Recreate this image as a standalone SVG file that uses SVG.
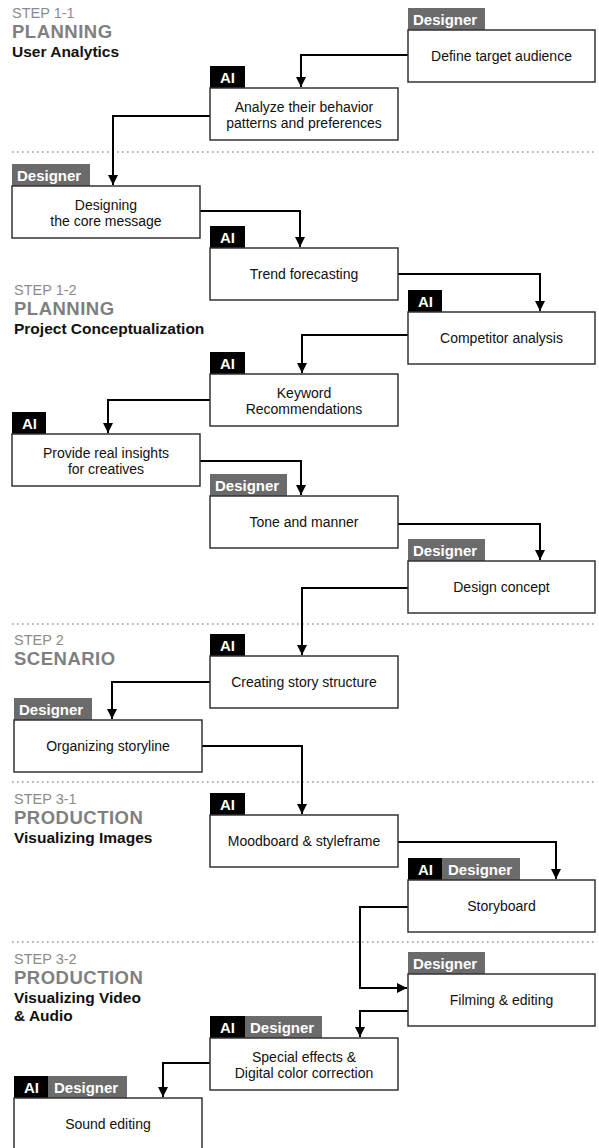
<svg xmlns="http://www.w3.org/2000/svg" width="599" height="1148" viewBox="0 0 599 1148">
<style>
text{font-family:"Liberation Sans",Arial,sans-serif}
.box{fill:#fff;stroke:#333;stroke-width:1.5}
.t{font-size:14px;fill:#111;text-anchor:middle}
.tagD{fill:#6b6b6b}
.tagA{fill:#000}
.tg{font-size:15px;font-weight:700;fill:#fff}
.step{font-size:14.5px;font-weight:400;fill:#8c8c8c}
.big{font-size:18.5px;font-weight:700;fill:#7f7f7f;letter-spacing:0.5px}
.sub{font-size:15.5px;font-weight:700;fill:#111}
.dot{stroke:#999;stroke-width:1.6;stroke-dasharray:1.6 3.4;fill:none}
.c{fill:none;stroke:#000;stroke-width:2}
</style>
<defs>
<marker id="ah" markerUnits="userSpaceOnUse" markerWidth="12" markerHeight="12" viewBox="0 0 12 12" refX="10" refY="6" orient="auto">
<path d="M0,1 L10,6 L0,11 Z" fill="#000"/>
</marker>
</defs>
<g id="dividers">
<line class="dot" x1="12" y1="152" x2="596" y2="152"/>
<line class="dot" x1="12" y1="624" x2="596" y2="624"/>
<line class="dot" x1="12" y1="782" x2="596" y2="782"/>
<line class="dot" x1="12" y1="942" x2="596" y2="942"/>
</g>
<g id="headers">
<text class="step" x="12" y="17.5">STEP 1-1</text>
<text class="big" x="12" y="38">PLANNING</text>
<text class="sub" x="12" y="56.5">User Analytics</text>
<text class="step" x="14" y="294.5">STEP 1-2</text>
<text class="big" x="14" y="315">PLANNING</text>
<text class="sub" x="14" y="333.5">Project Conceptualization</text>
<text class="step" x="14" y="644.5">STEP 2</text>
<text class="big" x="14" y="665">SCENARIO</text>
<text class="step" x="14" y="803.5">STEP 3-1</text>
<text class="big" x="14" y="824">PRODUCTION</text>
<text class="sub" x="14" y="842.5">Visualizing Images</text>
<text class="step" x="14" y="963.5">STEP 3-2</text>
<text class="big" x="14" y="984">PRODUCTION</text>
<text class="sub" x="14" y="1002.5">Visualizing Video</text>
<text class="sub" x="14" y="1020.5">&amp; Audio</text>
</g>
<g id="connectors">
<path class="c" d="M408,55 H301 V87" marker-end="url(#ah)"/>
<path class="c" d="M210,116 H113 V185" marker-end="url(#ah)"/>
<path class="c" d="M200,211 H300 V247" marker-end="url(#ah)"/>
<path class="c" d="M398,274 H540 V311" marker-end="url(#ah)"/>
<path class="c" d="M408,335 H302 V373" marker-end="url(#ah)"/>
<path class="c" d="M210,400 H108 V433" marker-end="url(#ah)"/>
<path class="c" d="M200,461 H301 V495" marker-end="url(#ah)"/>
<path class="c" d="M398,524 H540 V560" marker-end="url(#ah)"/>
<path class="c" d="M408,588 H302 V655" marker-end="url(#ah)"/>
<path class="c" d="M210,682 H112 V719" marker-end="url(#ah)"/>
<path class="c" d="M202,746 H302 V814" marker-end="url(#ah)"/>
<path class="c" d="M398,842 H556 V879" marker-end="url(#ah)"/>
<path class="c" d="M408,907 H360 V988 H407" marker-end="url(#ah)"/>
<path class="c" d="M408,1011 H360 V1037" marker-end="url(#ah)"/>
<path class="c" d="M210,1063 H163 V1097" marker-end="url(#ah)"/>
</g>
<g id="n1">
<rect class="tagD" x="408" y="8" width="77" height="22"/>
<text class="tg" x="413" y="24.5">Designer</text>
<rect class="box" x="408" y="30" width="187" height="52"/>
<text class="t" x="501.5" y="61">Define target audience</text>
</g>
<g id="n2">
<rect class="tagA" x="210" y="66" width="35" height="22"/>
<text class="tg" x="220" y="82.5">AI</text>
<rect class="box" x="210" y="88" width="188" height="52"/>
<text class="t" x="304" y="111.5">Analyze their behavior</text>
<text class="t" x="304" y="128">patterns and preferences</text>
</g>
<g id="n3">
<rect class="tagD" x="12" y="164" width="78" height="22"/>
<text class="tg" x="17" y="180.5">Designer</text>
<rect class="box" x="12" y="186" width="188" height="52"/>
<text class="t" x="106" y="209.5">Designing</text>
<text class="t" x="106" y="226">the core message</text>
</g>
<g id="n4">
<rect class="tagA" x="210" y="226" width="35" height="22"/>
<text class="tg" x="220" y="242.5">AI</text>
<rect class="box" x="210" y="248" width="188" height="52"/>
<text class="t" x="304" y="279">Trend forecasting</text>
</g>
<g id="n5">
<rect class="tagA" x="408" y="290" width="34" height="22"/>
<text class="tg" x="418" y="306.5">AI</text>
<rect class="box" x="408" y="312" width="187" height="52"/>
<text class="t" x="501.5" y="343">Competitor analysis</text>
</g>
<g id="n6">
<rect class="tagA" x="210" y="352" width="35" height="22"/>
<text class="tg" x="220" y="368.5">AI</text>
<rect class="box" x="210" y="374" width="188" height="52"/>
<text class="t" x="304" y="397.5">Keyword</text>
<text class="t" x="304" y="414">Recommendations</text>
</g>
<g id="n7">
<rect class="tagA" x="12" y="412" width="34" height="22"/>
<text class="tg" x="22" y="428.5">AI</text>
<rect class="box" x="12" y="434" width="188" height="52"/>
<text class="t" x="106" y="457.5">Provide real insights</text>
<text class="t" x="106" y="474">for creatives</text>
</g>
<g id="n8">
<rect class="tagD" x="210" y="474" width="77" height="22"/>
<text class="tg" x="215" y="490.5">Designer</text>
<rect class="box" x="210" y="496" width="188" height="52"/>
<text class="t" x="304" y="527">Tone and manner</text>
</g>
<g id="n9">
<rect class="tagD" x="408" y="539" width="77" height="22"/>
<text class="tg" x="413" y="555.5">Designer</text>
<rect class="box" x="408" y="561" width="187" height="52"/>
<text class="t" x="501.5" y="592">Design concept</text>
</g>
<g id="n10">
<rect class="tagA" x="210" y="634" width="35" height="22"/>
<text class="tg" x="220" y="650.5">AI</text>
<rect class="box" x="210" y="656" width="188" height="52"/>
<text class="t" x="304" y="687">Creating story structure</text>
</g>
<g id="n11">
<rect class="tagD" x="14" y="698" width="78" height="22"/>
<text class="tg" x="19" y="714.5">Designer</text>
<rect class="box" x="14" y="720" width="188" height="52"/>
<text class="t" x="108" y="751">Organizing storyline</text>
</g>
<g id="n12">
<rect class="tagA" x="210" y="793" width="35" height="22"/>
<text class="tg" x="220" y="809.5">AI</text>
<rect class="box" x="210" y="815" width="188" height="52"/>
<text class="t" x="304" y="846">Moodboard &amp; styleframe</text>
</g>
<g id="n13">
<rect class="tagA" x="408" y="858" width="34" height="22"/>
<rect class="tagD" x="442" y="858" width="78" height="22"/>
<text class="tg" x="418" y="874.5">AI</text>
<text class="tg" x="448" y="874.5">Designer</text>
<rect class="box" x="408" y="880" width="187" height="52"/>
<text class="t" x="501.5" y="911">Storyboard</text>
</g>
<g id="n14">
<rect class="tagD" x="408" y="952" width="77" height="22"/>
<text class="tg" x="413" y="968.5">Designer</text>
<rect class="box" x="408" y="974" width="187" height="52"/>
<text class="t" x="501.5" y="1005">Filming &amp; editing</text>
</g>
<g id="n15">
<rect class="tagA" x="210" y="1016" width="35" height="22"/>
<rect class="tagD" x="245" y="1016" width="77" height="22"/>
<text class="tg" x="220" y="1032.5">AI</text>
<text class="tg" x="250" y="1032.5">Designer</text>
<rect class="box" x="210" y="1038" width="188" height="52"/>
<text class="t" x="304" y="1061.5">Special effects &amp;</text>
<text class="t" x="304" y="1078">Digital color correction</text>
</g>
<g id="n16">
<rect class="tagA" x="14" y="1076" width="34" height="22"/>
<rect class="tagD" x="48" y="1076" width="79" height="22"/>
<text class="tg" x="24" y="1092.5">AI</text>
<text class="tg" x="54" y="1092.5">Designer</text>
<rect class="box" x="14" y="1098" width="188" height="54"/>
<text class="t" x="108" y="1129">Sound editing</text>
</g>
</svg>
